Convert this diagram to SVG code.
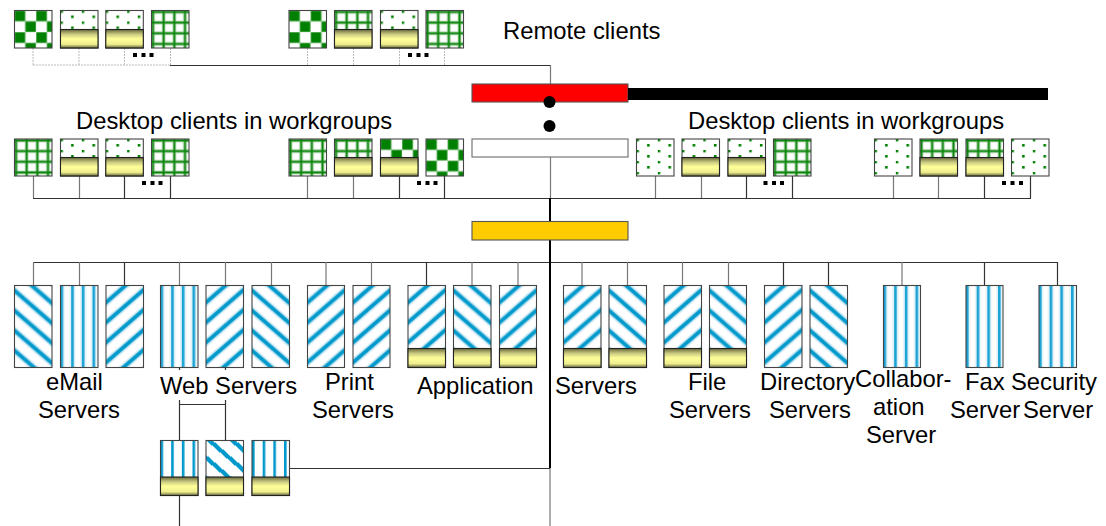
<svg xmlns="http://www.w3.org/2000/svg" width="1106" height="526" viewBox="0 0 1106 526">
<style>
text{font-family:"Liberation Sans",Arial,sans-serif;font-size:23.8px;fill:#000}
rect.n{stroke:#444;stroke-width:1.1}
.b{fill:url(#gBase);stroke:#222;stroke-width:1.1}
.ck{fill:url(#pCheck)}.gr{fill:url(#pGrid)}.dt{fill:url(#pDots)}
.fw{fill:url(#pFwd)}.bk{fill:url(#pBack)}.vt{fill:url(#pVert)}
.vc{fill:url(#pVertC)}.bc{fill:url(#pBackC)}
.c{fill:none;stroke:#333;stroke-width:1.2}
.g{fill:none;stroke:#777;stroke-width:1.2}
.d{fill:none;stroke:#bbb;stroke-width:1;stroke-dasharray:2 1}
.t{fill:none;stroke:#000;stroke-width:2}
</style>
<defs>
<linearGradient id="gBase" x1="0" y1="0" x2="0" y2="1">
<stop offset="0" stop-color="#66663a"/><stop offset=".25" stop-color="#c8c880"/><stop offset=".5" stop-color="#ffff99"/><stop offset=".8" stop-color="#eeee90"/><stop offset="1" stop-color="#66663a"/>
</linearGradient>
<pattern id="pCheck" patternUnits="userSpaceOnUse" width="21.6" height="21.6">
<rect width="21.6" height="21.6" fill="#fff"/>
<g fill="#008000" stroke="#8fc78f" stroke-width=".8"><rect x="0" y="0" width="10.8" height="10.8"/><rect x="10.8" y="10.8" width="10.8" height="10.8"/></g>
</pattern>
<pattern id="pGrid" patternUnits="userSpaceOnUse" width="10.67" height="10.67">
<rect width="10.67" height="10.67" fill="#fff"/>
<path d="M1.5 0V10.67M0 1.5H10.67M12.17 0V10.67M0 12.17H10.67" stroke="#b8dcb8" stroke-width="3.8"/>
<path d="M1.5 0V10.67M0 1.5H10.67" stroke="#0a840a" stroke-width="1.9"/>
</pattern>
<pattern id="pDots" patternUnits="userSpaceOnUse" width="21.33" height="11">
<rect width="21.33" height="11" fill="#fff"/>
<rect x="0" y="0" width="2.4" height="2.4" fill="#008000"/><rect x="10.6" y="5" width="2.6" height="2.6" fill="#008000"/>
</pattern>
<pattern id="pFwd" patternUnits="userSpaceOnUse" width="23" height="20" y="-3">
<rect width="23" height="20" fill="#fff"/>
<g fill="none"><path d="M-46 60L46 -20M-23 60L69 -20M-69 60L23 -20" stroke="#cde8f3" stroke-width="7"/><path d="M-46 60L46 -20M-23 60L69 -20M-69 60L23 -20" stroke="#0099cc" stroke-width="3.8"/></g>
</pattern>
<pattern id="pBack" patternUnits="userSpaceOnUse" width="23" height="20" y="5">
<rect width="23" height="20" fill="#fff"/>
<g fill="none"><path d="M-23 -20L46 40M0 -20L69 40M-46 -20L23 40" stroke="#cde8f3" stroke-width="7"/><path d="M-23 -20L46 40M0 -20L69 40M-46 -20L23 40" stroke="#0099cc" stroke-width="3.8"/></g>
</pattern>
<pattern id="pVert" patternUnits="userSpaceOnUse" width="10.67" height="20">
<rect width="10.67" height="20" fill="#fff"/>
<rect x="-1.7" width="6" height="20" fill="#dff1f8"/><rect x="8.97" width="6" height="20" fill="#dff1f8"/>
<rect x="0" width="2.6" height="20" fill="#1aa3d4"/>
</pattern>
<pattern id="pVertC" patternUnits="userSpaceOnUse" width="10.67" height="20">
<rect width="10.67" height="20" fill="#fff"/>
<rect x="0" width="2.6" height="20" fill="#0099cc"/>
</pattern>
<pattern id="pBackC" patternUnits="userSpaceOnUse" width="23" height="20" y="-3">
<rect width="23" height="20" fill="#fff"/>
<path d="M-23 -20L46 40M0 -20L69 40M-46 -20L23 40" fill="none" stroke="#0099cc" stroke-width="4.2" shape-rendering="crispEdges"/>
</pattern>
</defs>

<g id="connectors">
<path class="d" d="M33 48V65M79 48V65M124.500 48V65M170.500 48V65M307.500 48V65M353.500 48V65M399.500 48V65M444.500 48V65M33 65H170"/>
<path class="c" d="M170 65.500H550.500"/>
<path class="g" d="M550.500 65V84M550.500 157V198"/>
<path class="g" d="M33.500 176V198M79.500 176V198M307.500 176V198M353.500 176V198M655.500 176V198M701.500 176V198M893.500 176V198M938.500 176V198"/>
<path class="c" d="M124.500 176V198M170.500 176V198M399.500 176V198M444.500 176V198M746.500 176V198M792.500 176V198M984.500 176V198M1030.500 176V198"/>
<path class="c" d="M33 198.500H1031"/>
<path class="c" d="M33 262.500H1057.500"/>
<path class="g" d="M33.500 262V285M79.500 262V285M179.500 262V285M225.500 262V285M271.500 262V285M326 262V285M371.500 262V285M472 262V285M518 262V285M582 262V285M627.500 262V285M682.500 262V285M728.500 262V285M902 262V285"/>
<path class="c" d="M124.500 262V285M426.500 262V285M783.500 262V285M828.500 262V285M984.500 262V285M1057.500 262V285"/>
<path class="t" d="M550 198V221M550 240V468"/>
<path class="g" d="M550 468V526"/>
<path class="c" d="M289 468.500H550"/>
<path class="c" d="M179.500 367V370M225.500 367V370M179.500 400V440M225.500 400V440M179.500 404.500H225.500M179.500 495V526"/>
</g>

<g id="bar-red"><rect x="472" y="84" width="156" height="18" fill="#ff0000" stroke="#555" stroke-width="1.1"/></g>
<g id="bar-black"><rect x="628" y="88" width="420" height="12" fill="#000"/></g>
<g id="bar-white"><rect x="472" y="139" width="156" height="18" fill="#fff" stroke="#777" stroke-width="1.2"/></g>
<g id="bar-orange"><rect x="472" y="221.500" width="156" height="18.500" fill="#ffcc00" stroke="#555" stroke-width="1.1"/></g>
<g id="dots-vertical" fill="#000"><circle cx="549.500" cy="102" r="6"/><circle cx="549.500" cy="126" r="6"/></g>

<g id="remote-1" transform="translate(14.500 10.500)"><rect class="n ck" width="37.500" height="37.500"/></g>
<g id="remote-2" transform="translate(60.500 10.500)"><rect class="n dt" width="37.500" height="37.500"/><rect class="b" y="19" width="37.500" height="18.500"/></g>
<g id="remote-3" transform="translate(105.800 10.500)"><rect class="n dt" width="37.500" height="37.500"/><rect class="b" y="19" width="37.500" height="18.500"/></g>
<g id="remote-4" transform="translate(151.500 10.500)"><rect class="n gr" width="37.500" height="37.500"/></g>
<g id="remote-5" transform="translate(289 10.500)"><rect class="n ck" width="37.500" height="37.500"/></g>
<g id="remote-6" transform="translate(334.500 10.500)"><rect class="n gr" width="37.500" height="37.500"/><rect class="b" y="19" width="37.500" height="18.500"/></g>
<g id="remote-7" transform="translate(380.500 10.500)"><rect class="n dt" width="37.500" height="37.500"/><rect class="b" y="19" width="37.500" height="18.500"/></g>
<g id="remote-8" transform="translate(426 10.500)"><rect class="n gr" width="37.500" height="37.500"/></g>

<g id="desk-1" transform="translate(14.500 139)"><rect class="n gr" width="37.500" height="37"/></g>
<g id="desk-2" transform="translate(60.500 139)"><rect class="n dt" width="37.500" height="37"/><rect class="b" y="18.500" width="37.500" height="18.500"/></g>
<g id="desk-3" transform="translate(105.800 139)"><rect class="n dt" width="37.500" height="37"/><rect class="b" y="18.500" width="37.500" height="18.500"/></g>
<g id="desk-4" transform="translate(151.500 139)"><rect class="n gr" width="37.500" height="37"/></g>
<g id="desk-5" transform="translate(289 139)"><rect class="n gr" width="37.500" height="37"/></g>
<g id="desk-6" transform="translate(334.500 139)"><rect class="n gr" width="37.500" height="37"/><rect class="b" y="18.500" width="37.500" height="18.500"/></g>
<g id="desk-7" transform="translate(380.500 139)"><rect class="n ck" width="37.500" height="37"/><rect class="b" y="18.500" width="37.500" height="18.500"/></g>
<g id="desk-8" transform="translate(426 139)"><rect class="n ck" width="37.500" height="37"/></g>
<g id="desk-9" transform="translate(636.500 139)"><rect class="n dt" width="37.500" height="37"/></g>
<g id="desk-10" transform="translate(682 139)"><rect class="n dt" width="37.500" height="37"/><rect class="b" y="18.500" width="37.500" height="18.500"/></g>
<g id="desk-11" transform="translate(728 139)"><rect class="n dt" width="37.500" height="37"/><rect class="b" y="18.500" width="37.500" height="18.500"/></g>
<g id="desk-12" transform="translate(773.500 139)"><rect class="n gr" width="37.500" height="37"/></g>
<g id="desk-13" transform="translate(874.500 139)"><rect class="n dt" width="37.500" height="37"/></g>
<g id="desk-14" transform="translate(920 139)"><rect class="n gr" width="37.500" height="37"/><rect class="b" y="18.500" width="37.500" height="18.500"/></g>
<g id="desk-15" transform="translate(966 139)"><rect class="n gr" width="37.500" height="37"/><rect class="b" y="18.500" width="37.500" height="18.500"/></g>
<g id="desk-16" transform="translate(1011.500 139)"><rect class="n dt" width="37.500" height="37"/></g>

<g id="srv-1" transform="translate(14.500 285.500)"><rect class="n bk" width="37.500" height="82"/></g>
<g id="srv-2" transform="translate(60.500 285.500)"><rect class="n vt" width="37.500" height="82"/></g>
<g id="srv-3" transform="translate(106 285.500)"><rect class="n fw" width="37.500" height="82"/></g>
<g id="srv-4" transform="translate(160.500 285.500)"><rect class="n vt" width="37.500" height="82"/></g>
<g id="srv-5" transform="translate(206 285.500)"><rect class="n fw" width="37.500" height="82"/></g>
<g id="srv-6" transform="translate(252 285.500)"><rect class="n bk" width="37.500" height="82"/></g>
<g id="srv-7" transform="translate(307.500 285.500)"><rect class="n fw" width="37" height="82"/></g>
<g id="srv-8" transform="translate(353 285.500)"><rect class="n fw" width="37" height="82"/></g>
<g id="srv-9" transform="translate(408 285.500)"><rect class="n fw" width="37.500" height="82"/><rect class="b" y="63" width="37.500" height="19"/></g>
<g id="srv-10" transform="translate(453.500 285.500)"><rect class="n bk" width="37.500" height="82"/><rect class="b" y="63" width="37.500" height="19"/></g>
<g id="srv-11" transform="translate(499.500 285.500)"><rect class="n fw" width="37" height="82"/><rect class="b" y="63" width="37" height="19"/></g>
<g id="srv-12" transform="translate(563.500 285.500)"><rect class="n fw" width="37.500" height="82"/><rect class="b" y="63" width="37.500" height="19"/></g>
<g id="srv-13" transform="translate(609 285.500)"><rect class="n bk" width="37.500" height="82"/><rect class="b" y="63" width="37.500" height="19"/></g>
<g id="srv-14" transform="translate(664 285.500)"><rect class="n fw" width="37.500" height="82"/><rect class="b" y="63" width="37.500" height="19"/></g>
<g id="srv-15" transform="translate(709.500 285.500)"><rect class="n bk" width="37" height="82"/><rect class="b" y="63" width="37" height="19"/></g>
<g id="srv-16" transform="translate(764.500 285.500)"><rect class="n fw" width="37.500" height="82"/></g>
<g id="srv-17" transform="translate(810 285.500)"><rect class="n bk" width="37.500" height="82"/></g>
<g id="srv-18" transform="translate(883.500 285.500)"><rect class="n vt" width="37" height="82"/></g>
<g id="srv-19" transform="translate(966 285.500)"><rect class="n vt" width="37" height="82"/></g>
<g id="srv-20" transform="translate(1039 285.500)"><rect class="n vt" width="37.500" height="82"/></g>

<g id="srv-21" transform="translate(160.500 440.500)"><rect class="n vc" width="37.500" height="55"/><rect class="b" y="36.500" width="37.500" height="18.500"/></g>
<g id="srv-22" transform="translate(206 440.500)"><rect class="n bc" width="37.500" height="55"/><rect class="b" y="36.500" width="37.500" height="18.500"/></g>
<g id="srv-23" transform="translate(252 440.500)"><rect class="n vc" width="37.500" height="55"/><rect class="b" y="36.500" width="37.500" height="18.500"/></g>

<g id="ellipses" fill="#000">
<path d="M133 53h4v4h-4zM141.500 53h4v4h-4zM149.500 53h4v4h-4zM408 53h4v4h-4zM416.500 53h4v4h-4zM424.500 53h4v4h-4zM142 181h4v4h-4zM150.500 181h4v4h-4zM158.500 181h4v4h-4zM417 181h4v4h-4zM425.500 181h4v4h-4zM433.500 181h4v4h-4zM763.500 181h4v4h-4zM772 181h4v4h-4zM780 181h4v4h-4zM1002 181h4v4h-4zM1010.500 181h4v4h-4zM1019 181h4v4h-4z"/>
</g>

<g id="labels">
<text x="503" y="39">Remote clients</text>
<text x="76" y="129">Desktop clients in workgroups</text>
<text x="688" y="129">Desktop clients in workgroups</text>
<text x="46" y="390">eMail</text>
<text x="38" y="418">Servers</text>
<text x="160" y="394">Web Servers</text>
<text x="325" y="390">Print</text>
<text x="312" y="418">Servers</text>
<text x="417" y="394">Application</text>
<text x="555" y="394">Servers</text>
<text x="688" y="390">File</text>
<text x="669" y="418">Servers</text>
<text x="760" y="390">Directory</text>
<text x="769" y="418">Servers</text>
<text x="855" y="387">Collabor-</text>
<text x="873" y="415">ation</text>
<text x="866" y="443">Server</text>
<text x="965" y="390">Fax</text>
<text x="950" y="418">Server</text>
<text x="1011" y="390">Security</text>
<text x="1023" y="418">Server</text>
</g>
</svg>
